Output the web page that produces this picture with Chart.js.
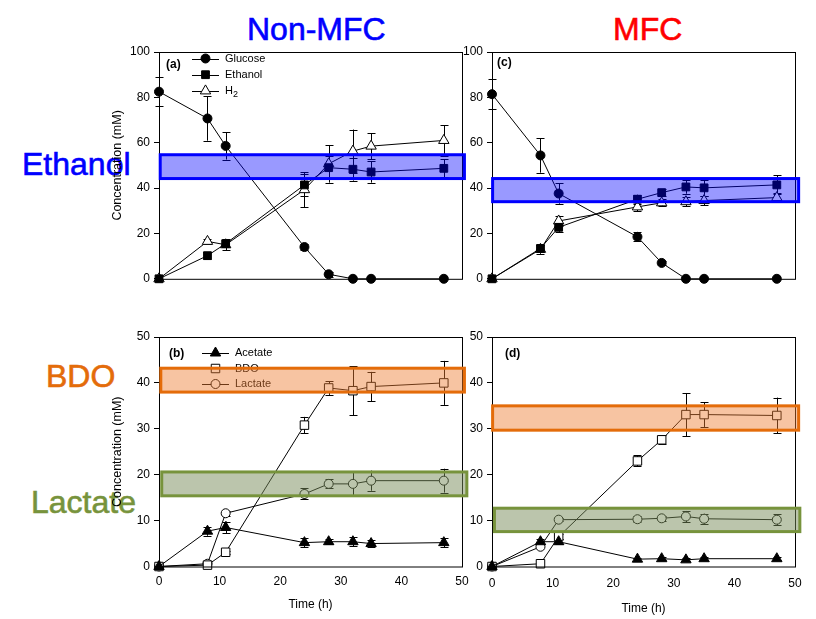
<!DOCTYPE html>
<html>
<head>
<meta charset="utf-8">
<script src="https://cdn.jsdelivr.net/npm/chart.js@4/dist/chart.umd.min.js"></script>
<style>
    body { margin: 0; background: #fff; }
    #wrap { position: relative; width: 816px; height: 619px; background: #fff; overflow: hidden; }
    #wrap canvas { position: absolute; }
    .big { position: absolute; font-family: Arial, "Liberation Sans", sans-serif; font-size: 32px; line-height: 32px; white-space: nowrap; -webkit-text-stroke: 0.6px currentColor; }
</style>
</head>
<body>
<div id="wrap">
    <div class="big" style="left:247px; top:13px; color:#0000ff;">Non-MFC</div>
    <div class="big" style="left:613px; top:13px; color:#ff0000;">MFC</div>
    <div class="big" style="left:22px; top:148px; color:#0000ff;">Ethanol</div>
    <div class="big" style="left:46px; top:360px; color:#e46c0a;">BDO</div>
    <div class="big" style="left:31px; top:486px; color:#77933c;">Lactate</div>

    <canvas id="chartA" width="380" height="250" style="left:100px; top:40px;"></canvas>
    <canvas id="chartC" width="384" height="250" style="left:432px; top:40px;"></canvas>
    <canvas id="chartB" width="380" height="299" style="left:100px; top:320px;"></canvas>
    <canvas id="chartD" width="384" height="299" style="left:432px; top:320px;"></canvas>
</div>
<script>
// sampling times (h)
const timeH = [0, 8, 11, 24, 28, 32, 35, 47];

// Non-MFC (a)
const glucoseA = [82.5, 70.7, 58.6, 14.0, 2.0, 0, 0, 0];
const glucoseAErr = [6.5, 9.8, 6, 1.2, 1, 0, 0, 0];
const ethanolA = [0, 10.2, 15.5, 41.4, 49.0, 48.3, 47.1, 48.7];
const ethanolAErr = [0, 1.5, 1.5, 5, 5, 5, 4.7, 4];
const h2A = [0, 16.5, 15.0, 39.3, 50.7, 56.3, 58.5, 61.0];
const h2AErr = [0, 1, 2.5, 7.7, 8.3, 9.5, 5.7, 6.7];

// MFC (c)
const glucoseC = [81.4, 54.4, 37.6, 18.5, 7.0, 0, 0, 0];
const glucoseCErr = [6.5, 7.6, 4.5, 2, 1, 0, 0, 0];
const ethanolC = [0, 13.4, 22.7, 35.1, 38.0, 40.5, 40.1, 41.4];
const ethanolCErr = [0, 1.5, 2, 2, 1.5, 3, 3.5, 4.2];
const h2C = [0, 13.0, 25.5, 31.7, 33.5, 34.0, 34.5, 35.8];
const h2CErr = [0, 2, 2, 2, 1.5, 2, 2, 2];

// Non-MFC (b)
const acetateB = [0, 7.7, 8.5, 5.2, 5.4, 5.4, 5.0, 5.2];
const acetateBErr = [0, 1, 1.3, 1, 0.5, 1, 0.8, 1];
const bdoB = [0, 0.3, 3.1, 30.8, 38.9, 38.3, 39.2, 40.0];
const bdoBErr = [0, 0, 0.3, 1.8, 1.5, 5.3, 3.2, 4.8];
const lactateB = [0, 0.6, 11.6, 15.8, 18.0, 18.0, 18.7, 18.7];
const lactateBErr = [0, 0, 0.5, 1.2, 1, 2.5, 2.2, 2.6];

// MFC (d)
const acetateD = [0, 5.4, 5.4, 1.6, 1.7, 1.45, 1.7, 1.7];
const acetateDErr = [0, 0.5, 0.5, 0.3, 0.3, 0.3, 0.3, 0.3];
const bdoD = [0, 0.6, 6.5, 23.0, 27.6, 33.1, 33.1, 32.9];
const bdoDErr = [0, 0, 0.5, 1.2, 1, 4.7, 2.7, 3.9];
const lactateD = [0, 4.3, 10.2, 10.3, 10.5, 10.9, 10.4, 10.2];
const lactateDErr = [0, 0, 0.3, 0.7, 0.5, 1.2, 1.1, 1.2];

// highlighted ranges [yLow, yHigh] in mM
const ethanolBandA = [44.2, 54.7];
const ethanolBandC = [34.0, 44.2];
const bdoBandB = [38.0, 43.2];
const lactateBandB = [15.4, 20.6];
const bdoBandD = [29.7, 35.0];
const lactateBandD = [7.6, 12.7];

const FONT = 'Arial, "Liberation Sans", sans-serif';

function drawMarker(ctx, style, x, y, r, fill) {
    ctx.save();
    ctx.beginPath();
    if (style === 'circle') {
        ctx.arc(x, y, r, 0, Math.PI * 2);
    } else if (style === 'rect') {
        const s = r * Math.SQRT1_2;
        ctx.rect(x - s, y - s, 2 * s, 2 * s);
    } else if (style === 'triangle') {
        ctx.moveTo(x, y - r);
        ctx.lineTo(x + r * 0.866, y + r * 0.5);
        ctx.lineTo(x - r * 0.866, y + r * 0.5);
        ctx.closePath();
    }
    ctx.fillStyle = fill;
    ctx.fill();
    ctx.lineWidth = 1;
    ctx.strokeStyle = '#000';
    ctx.stroke();
    ctx.restore();
}

const panelDeco = {
    id: 'panelDeco',
    beforeDatasetsDraw(chart) {
        const ctx = chart.ctx;
        const xs = chart.scales.x;
        const ys = chart.scales.y;
        ctx.save();
        ctx.strokeStyle = '#000';
        ctx.lineWidth = 1;
        chart.data.datasets.forEach(ds => {
            if (!ds.errorBars) return;
            ds.data.forEach((p, i) => {
                const e = ds.errorBars[i];
                if (!e) return;
                const x = Math.round(xs.getPixelForValue(p.x)) + 0.5;
                const y1 = ys.getPixelForValue(p.y + e);
                const y2 = ys.getPixelForValue(p.y - e);
                ctx.beginPath();
                ctx.moveTo(x, y1);
                ctx.lineTo(x, y2);
                ctx.moveTo(x - 4, Math.round(y1) + 0.5);
                ctx.lineTo(x + 4, Math.round(y1) + 0.5);
                ctx.moveTo(x - 4, Math.round(y2) + 0.5);
                ctx.lineTo(x + 4, Math.round(y2) + 0.5);
                ctx.stroke();
            });
        });
        ctx.restore();
    },
    afterDatasetsDraw(chart, args, opts) {
        const ctx = chart.ctx;
        const a = chart.chartArea;
        const xs = chart.scales.x;
        const ys = chart.scales.y;
        ctx.save();
        // frame
        ctx.strokeStyle = '#000';
        ctx.lineWidth = 1;
        ctx.strokeRect(a.left + 0.5, a.top + 0.5, a.right - a.left, a.bottom - a.top);

        // panel letter
        ctx.fillStyle = '#000';
        ctx.font = 'bold 12px ' + FONT;
        ctx.textBaseline = 'middle';
        ctx.textAlign = 'left';
        ctx.fillText(opts.label, opts.labelPos[0], opts.labelPos[1]);

        // legend
        if (opts.legend) {
            const lg = opts.legend;
            ctx.font = '11px ' + FONT;
            lg.items.forEach((it, i) => {
                const y = lg.y + i * lg.step;
                if (it.line) {
                    ctx.beginPath();
                    ctx.moveTo(lg.x, Math.round(y) + 0.5);
                    ctx.lineTo(lg.x + 27, Math.round(y) + 0.5);
                    ctx.stroke();
                }
                drawMarker(ctx, it.style, lg.x + 13.5, y, it.r, it.fill);
                ctx.fillStyle = '#000';
                if (it.sub) {
                    ctx.fillText(it.text, lg.x + 33, y);
                    const w = ctx.measureText(it.text).width;
                    ctx.font = '9px ' + FONT;
                    ctx.fillText(it.sub, lg.x + 33 + w, y + 4);
                    ctx.font = '11px ' + FONT;
                } else {
                    ctx.fillText(it.text, lg.x + 33, y);
                }
            });
        }

        // highlight bands
        (opts.bands || []).forEach(b => {
            const x1 = xs.getPixelForValue(b.x[0]);
            const x2 = xs.getPixelForValue(b.x[1]);
            const y1 = ys.getPixelForValue(b.y[1]);
            const y2 = ys.getPixelForValue(b.y[0]);
            ctx.fillStyle = b.fill;
            ctx.fillRect(x1, y1, x2 - x1, y2 - y1);
            ctx.strokeStyle = b.stroke;
            ctx.lineWidth = 3;
            ctx.strokeRect(x1, y1, x2 - x1, y2 - y1);
        });
        ctx.restore();
    }
};

function series(vals, errs, style, r, fill) {
    return {
        data: timeH.map((t, i) => ({ x: t, y: vals[i] })),
        errorBars: errs,
        borderColor: '#000',
        borderWidth: 1,
        tension: 0,
        pointStyle: style,
        pointRadius: r,
        pointHoverRadius: r,
        pointBackgroundColor: fill,
        pointBorderColor: '#000',
        pointBorderWidth: 1,
        clip: false
    };
}

function makePanel(id, cfg) {
    const yOpts = {
        type: 'linear',
        min: 0,
        max: cfg.yMax,
        ticks: { stepSize: cfg.yStep, padding: 4, color: '#000', font: { family: FONT, size: 12 } },
        grid: { display: true, drawOnChartArea: false, drawTicks: true, tickLength: 5, color: '#000' },
        border: { display: false },
        title: {
            display: !!cfg.yTitle,
            text: 'Concentration (mM)',
            color: '#000',
            font: { family: FONT, size: 12.5 },
            padding: { top: 10, bottom: 0 }
        },
        afterFit: s => { s.width = cfg.yWidth; }
    };
    const xOpts = {
        type: 'linear',
        min: 0,
        max: 50,
        ticks: {
            display: cfg.xTicks,
            stepSize: 10,
            padding: cfg.xTickPad,
            color: '#000',
            font: { family: FONT, size: 12 }
        },
        grid: { display: false },
        border: { display: false },
        title: {
            display: cfg.xTicks,
            text: 'Time (h)',
            color: '#000',
            font: { family: FONT, size: 12 },
            padding: { top: 0, bottom: cfg.xTitlePad || 7 }
        },
        afterFit: s => { s.height = cfg.xHeight; }
    };
    return new Chart(document.getElementById(id), {
        type: 'line',
        data: { datasets: cfg.datasets },
        options: {
            responsive: false,
            animation: false,
            devicePixelRatio: 1,
            layout: { padding: { left: 0, top: cfg.padTop, right: cfg.padRight, bottom: 0 } },
            scales: { x: xOpts, y: yOpts },
            plugins: {
                legend: { display: false },
                tooltip: { enabled: false },
                panelDeco: {
                    label: cfg.label,
                    labelPos: cfg.labelPos,
                    legend: cfg.legend,
                    bands: cfg.bands
                }
            }
        },
        plugins: [panelDeco]
    });
}

const BLUE_FILL = 'rgba(0, 0, 255, 0.4)';
const ORANGE_FILL = 'rgba(237, 125, 49, 0.45)';
const GREEN_FILL = 'rgba(120, 140, 90, 0.5)';

makePanel('chartA', {
    yMax: 100, yStep: 20, yTitle: true, yWidth: 59, xTicks: false, xHeight: 10,
    padTop: 12, padRight: 18,
    label: '(a)', labelPos: [66, 25],
    legend: {
        x: 92, y: 18.5, step: 16.2,
        items: [
            { text: 'Glucose', style: 'circle', r: 4.5, fill: '#000', line: true },
            { text: 'Ethanol', style: 'rect', r: 5.5, fill: '#000', line: true },
            { text: 'H', sub: '2', style: 'triangle', r: 6, fill: '#fff', line: true }
        ]
    },
    bands: [{ x: [0.2, 50.4], y: ethanolBandA, fill: BLUE_FILL, stroke: '#0000ff' }],
    datasets: [
        series(glucoseA, glucoseAErr, 'circle', 4.5, '#000'),
        series(ethanolA, ethanolAErr, 'rect', 5.5, '#000'),
        series(h2A, h2AErr, 'triangle', 6, '#fff')
    ]
});

makePanel('chartC', {
    yMax: 100, yStep: 20, yTitle: false, yWidth: 60, xTicks: false, xHeight: 10,
    padTop: 12, padRight: 21,
    label: '(c)', labelPos: [65, 23],
    bands: [{ x: [0.1, 50.6], y: ethanolBandC, fill: BLUE_FILL, stroke: '#0000ff' }],
    datasets: [
        series(glucoseC, glucoseCErr, 'circle', 4.5, '#000'),
        series(ethanolC, ethanolCErr, 'rect', 5.5, '#000'),
        series(h2C, h2CErr, 'triangle', 6, '#fff')
    ]
});

makePanel('chartB', {
    yMax: 50, yStep: 10, yTitle: true, yWidth: 59, xTicks: true, xHeight: 52.5,
    xTickPad: 0, xTitlePad: 7,
    padTop: 17, padRight: 18,
    label: '(b)', labelPos: [69, 34],
    legend: {
        x: 102, y: 33, step: 15.5,
        items: [
            { text: 'Acetate', style: 'triangle', r: 6, fill: '#000', line: true },
            { text: 'BDO', style: 'rect', r: 6, fill: '#fff', line: false },
            { text: 'Lactate', style: 'circle', r: 4.5, fill: '#fff', line: true }
        ]
    },
    bands: [
        { x: [0.3, 50.4], y: bdoBandB, fill: ORANGE_FILL, stroke: '#e46c0a' },
        { x: [0.45, 50.8], y: lactateBandB, fill: GREEN_FILL, stroke: '#77933c' }
    ],
    datasets: [
        series(acetateB, acetateBErr, 'triangle', 6, '#000'),
        series(bdoB, bdoBErr, 'rect', 6, '#fff'),
        series(lactateB, lactateBErr, 'circle', 4.5, '#fff')
    ]
});

makePanel('chartD', {
    yMax: 50, yStep: 10, yTitle: false, yWidth: 60, xTicks: true, xHeight: 52.5,
    xTickPad: 2, xTitlePad: 3,
    padTop: 17, padRight: 21,
    label: '(d)', labelPos: [73, 34],
    bands: [
        { x: [0.1, 50.6], y: bdoBandD, fill: ORANGE_FILL, stroke: '#e46c0a' },
        { x: [0.4, 50.8], y: lactateBandD, fill: GREEN_FILL, stroke: '#77933c' }
    ],
    datasets: [
        series(acetateD, acetateDErr, 'triangle', 6, '#000'),
        series(bdoD, bdoDErr, 'rect', 6, '#fff'),
        series(lactateD, lactateDErr, 'circle', 4.5, '#fff')
    ]
});
</script>
</body>
</html>
